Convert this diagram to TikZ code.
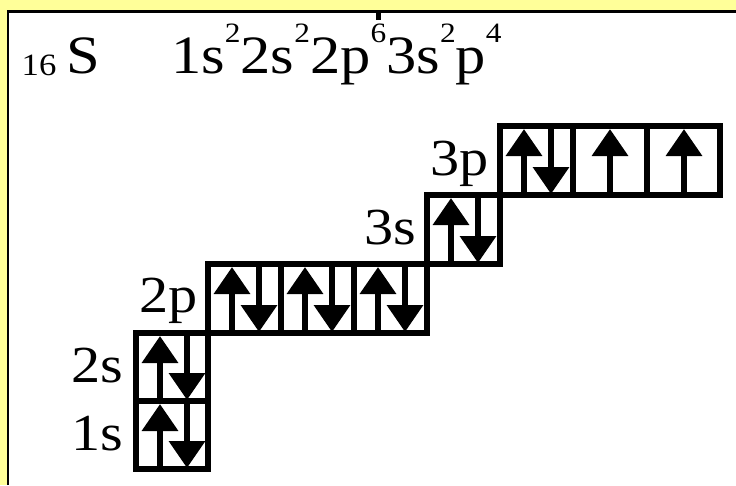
\documentclass[tikz,border=0pt]{standalone}
\usepackage{fontspec}
\usepackage{graphicx}
\setmainfont{Liberation Serif}
\usetikzlibrary{arrows.meta}
\definecolor{bgyellow}{RGB}{255,255,153}
\newcommand\widetext[1]{\scalebox{1.12}[1]{#1}}
\newcommand\supr[1]{\raisebox{31pt}{\fontsize{28}{28}\selectfont #1}}
\newcommand\pairspin[3]{%
  \draw[spin] (#1+24,#3-3) -- (#1+24,#2+3);
  \draw[spin] (#1+51,#2+3) -- (#1+51,#3-1);}
\newcommand\onespin[3]{%
  \draw[spin] (#1+37,#3-3) -- (#1+37,#2+3);}
\tikzset{
  orb/.style={draw=black, line width=6.5pt},
  spin/.style={line width=6.5pt, -{Triangle[length=27pt,width=35pt]}},
  lbl/.style={inner sep=0pt, anchor=base east, font=\fontsize{52}{52}\selectfont},
  ttl/.style={inner sep=0pt, anchor=base west, font=\fontsize{54}{54}\selectfont},
}
\begin{document}
\begin{tikzpicture}[x=1pt,y=-1pt]
\useasboundingbox (0,0) rectangle (736,485);
\fill[bgyellow] (0,0) rectangle (736,485);
\fill[white] (8,11.5) rectangle (736,485);
\draw[line width=2.5pt] (8,485) -- (8,11.5) -- (736,11.5);
% title
\node[ttl] (elem) at (21.5,73) {\widetext{\raisebox{-2pt}{\fontsize{31}{31}\selectfont 16}\hspace{9pt}S}};
\node[ttl] (config) at (171,73) {\widetext{1s\supr{2}2s\supr{2}2p\supr{\rlap{\hspace{5pt}\rule[22pt]{4pt}{8pt}}6}3s\supr{2}p\supr{4}}};
% orbital boxes
\draw[orb] (136,401) rectangle (208,469);
\draw[orb] (136,333) rectangle (208,401);
\draw[orb] (208,264) rectangle (281,333);
\draw[orb] (281,264) rectangle (354,333);
\draw[orb] (354,264) rectangle (427,333);
\draw[orb] (427,195) rectangle (500,264);
\draw[orb] (500,126) rectangle (573,195);
\draw[orb] (573,126) rectangle (647,195);
\draw[orb] (647,126) rectangle (720,195);
% spins
\pairspin{136}{401}{469}
\pairspin{136}{333}{401}
\pairspin{208}{264}{333}
\pairspin{281}{264}{333}
\pairspin{354}{264}{333}
\pairspin{427}{195}{264}
\pairspin{500}{126}{195}
\onespin{573}{126}{195}
\onespin{647}{126}{195}
% labels
\node[lbl] (l1s) at (123,450) {\widetext{1s}};
\node[lbl] (l2s) at (123,382) {\widetext{2s}};
\node[lbl] (l2p) at (198,312) {\widetext{2p}};
\node[lbl] (l3s) at (416,244) {\widetext{3s}};
\node[lbl] (l3p) at (489,175) {\widetext{3p}};
\end{tikzpicture}
\end{document}
